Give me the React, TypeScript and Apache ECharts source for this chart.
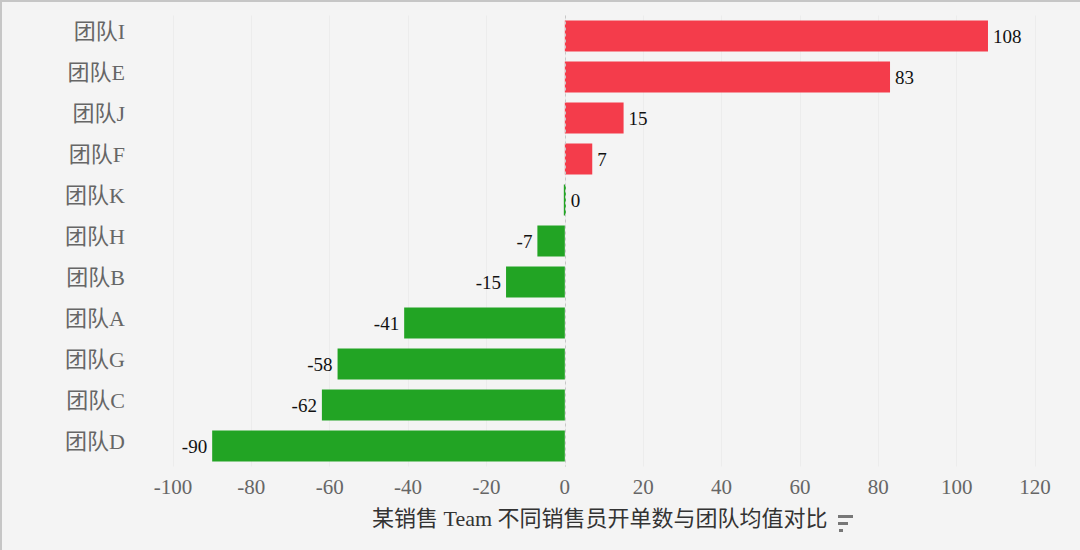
import React, { useEffect, useRef } from "react";
import * as echarts from "echarts";

const categories = ["团队I", "团队E", "团队J", "团队F", "团队K", "团队H", "团队B", "团队A", "团队G", "团队C", "团队D"];
const values = [108, 83, 15, 7, 0, -7, -15, -41, -58, -62, -90];
const titleText = "某销售 Team 不同销售员开单数与团队均值对比";

const RED = "#f43c4b";
const GREEN = "#22a424";
const FONT = '"Liberation Serif", "DejaVu Serif", "Noto Sans CJK SC", serif';

export default function App() {
  const ref = useRef<HTMLDivElement>(null);
  useEffect(() => {
    document.body.style.margin = "0";
    const chart = echarts.init(ref.current!, undefined, { renderer: "svg" });
    chart.setOption({
      animation: false,
      backgroundColor: "#f4f4f4",
      grid: { left: 173, right: 45, top: 15.5, bottom: 83.5 },
      xAxis: {
        type: "value",
        min: -100,
        max: 120,
        interval: 20,
        axisLine: { show: false },
        axisTick: { show: false },
        splitLine: { show: true, lineStyle: { color: "#ececec", width: 1 } },
        axisLabel: { color: "#666", fontSize: 21, fontFamily: FONT, margin: 10 },
      },
      yAxis: {
        type: "category",
        data: categories,
        inverse: true,
        axisLine: { show: false },
        axisTick: { show: false },
        splitLine: { show: false },
        axisLabel: {
          color: "#666",
          fontSize: 22,
          fontFamily: FONT,
          margin: 48,
          verticalAlign: "bottom",
          lineHeight: 9,
        },
      },
      series: [
        {
          type: "bar",
          barWidth: 31,
          data: values.map((v) => ({
            value: v,
            itemStyle: {
              color: v > 0 ? RED : GREEN,
              borderColor: v === 0 ? GREEN : undefined,
              borderWidth: v === 0 ? 2 : 0,
            },
            label: {
              show: true,
              position: v >= 0 ? "right" : "left",
              distance: 5,
              color: "#111",
              fontSize: 19,
              fontFamily: FONT,
            },
          })),
          markLine: {
            silent: true,
            symbol: "none",
            label: { show: false },
            lineStyle: { color: "#c8c8c8", type: [3, 3], width: 1 },
            data: [{ xAxis: 0 }],
          },
        },
      ],
      graphic: [
        { type: "rect", left: 0, top: 0, shape: { width: 1080, height: 2 }, style: { fill: "#c6c6c6" } },
        { type: "rect", left: 0, top: 0, shape: { width: 2, height: 550 }, style: { fill: "#c6c6c6" } },
        {
          type: "text",
          left: 372,
          top: 507,
          style: { text: titleText, fill: "#333", font: `22px ${FONT}` },
        },
        { type: "rect", left: 838, top: 515, shape: { width: 15, height: 3 }, style: { fill: "#777" } },
        { type: "rect", left: 838, top: 522, shape: { width: 10, height: 3 }, style: { fill: "#777" } },
        { type: "rect", left: 839, top: 529, shape: { width: 4, height: 3 }, style: { fill: "#777" } },
      ],
    });
    return () => chart.dispose();
  }, []);
  return <div ref={ref} style={{ width: 1080, height: 550 }} />;
}
